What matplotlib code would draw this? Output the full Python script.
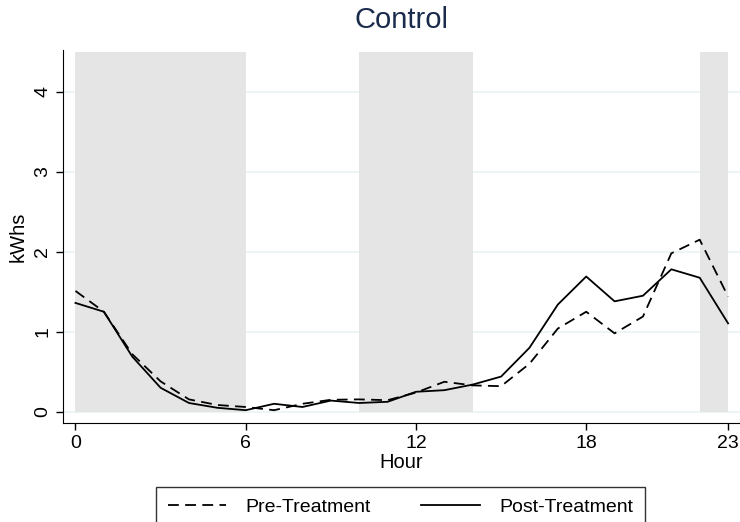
import matplotlib.pyplot as plt
import numpy as np

plt.rcParams["font.family"] = ["Liberation Sans", "DejaVu Sans"]

hours = np.arange(24)
pre_treatment = [1.51, 1.25, 0.72, 0.38, 0.155, 0.085, 0.06, 0.02, 0.10, 0.15,
                 0.155, 0.145, 0.24, 0.375, 0.33, 0.32, 0.60, 1.04, 1.25, 0.98,
                 1.19, 1.98, 2.15, 1.44]
post_treatment = [1.36, 1.25, 0.69, 0.30, 0.11, 0.05, 0.02, 0.10, 0.06, 0.14,
                  0.11, 0.125, 0.25, 0.27, 0.34, 0.44, 0.80, 1.34, 1.69, 1.38,
                  1.45, 1.78, 1.675, 1.105]
shade_spans = [(0, 6), (10, 14), (22, 23)]
shade_top = 4.5
xticks = [0, 6, 12, 18, 23]
yticks = [0, 1, 2, 3, 4]

fig = plt.figure(figsize=(7.4, 5.22), dpi=100)
ax = fig.add_axes([63 / 740, 1 - 423 / 522, 1 - 63 / 740, (423 - 50) / 522])

for a, b in shade_spans:
    ax.fill_between([a, b], 0, shade_top, color="#e5e5e5", linewidth=0, zorder=1)

for y in yticks:
    ax.axhline(y, color="#eaf2f3", linewidth=1.2, zorder=0.5)

ax.plot(hours, pre_treatment, color="black", linewidth=1.3, dashes=(6, 3.5),
        label="Pre-Treatment", zorder=3)
ax.plot(hours, post_treatment, color="black", linewidth=1.3,
        label="Post-Treatment", zorder=3)

ax.set_xlim(-0.44, 23.42)
ax.set_ylim(-0.14, 4.52)
ax.set_xticks(xticks)
ax.set_yticks(yticks)
ax.tick_params(labelsize=14, length=5, width=1, color="black")
ax.tick_params(axis="y", labelrotation=90)
for lab in ax.get_yticklabels():
    lab.set_va("center")
ax.spines["top"].set_visible(False)
ax.spines["right"].set_visible(False)
ax.set_xlabel("Hour", fontsize=14.5, labelpad=1)
ax.set_ylabel("kWhs", fontsize=14.5, labelpad=5)
ax.set_title("Control", fontsize=21, color="#1a2b4c", pad=16)

leg = fig.legend(loc="upper center", bbox_to_anchor=(0.541, 1 - 487 / 522),
                 borderaxespad=0, ncol=2, fontsize=14, frameon=True,
                 fancybox=False, edgecolor="black", handlelength=3.0,
                 columnspacing=2.6, borderpad=0.6, handletextpad=1.0)
leg.get_frame().set_linewidth(1.0)

fig.savefig("out.png", dpi=100)
